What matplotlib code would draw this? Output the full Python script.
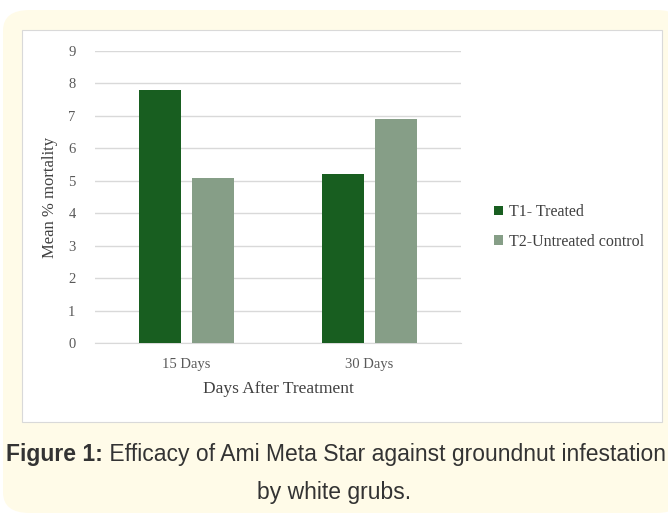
import numpy as np
import matplotlib.pyplot as plt
from matplotlib.patches import FancyBboxPatch, Rectangle

categories = ["15 Days", "30 Days"]
t1_treated = [7.8, 5.2]
t2_control = [5.1, 6.9]
series_names = ["T1- Treated", "T2-Untreated control"]

c1 = "#185e20"
c2 = "#869e87"
serif = ["Liberation Serif", "DejaVu Serif"]

fig = plt.figure(figsize=(6.68, 5.17), dpi=100)

# cream rounded frame and white chart panel
fig.patches.append(FancyBboxPatch((3 / 668, 4 / 517), 680 / 668, 503 / 517,
                                  boxstyle="round,pad=0,rounding_size=0.04",
                                  transform=fig.transFigure, fc="#fffbe8", ec="none", zorder=-2))
fig.patches.append(Rectangle((22 / 668, 95 / 517), 640 / 668, 392 / 517,
                             transform=fig.transFigure, fc="white", ec="#d9d9d9", lw=0.8, zorder=-1))

ax = fig.add_axes([95 / 668, 1 - 343 / 517, 366 / 668, 292 / 517])
ax.set_facecolor("none")
x = np.arange(len(categories))
w = 0.23
ax.bar(x - 0.143, t1_treated, w, color=c1, label=series_names[0], zorder=3)
ax.bar(x + 0.143, t2_control, w, color=c2, label=series_names[1], zorder=3)

ax.set_xlim(-0.5, 1.5)
ax.set_ylim(0, 9)
ax.set_yticks(range(10))
ax.set_xticks(x)
ax.set_xticklabels(categories)
ax.grid(axis="y", color="#d9d9d9", lw=1, zorder=0)
ax.set_axisbelow(True)
for s in ["top", "right", "left"]:
    ax.spines[s].set_visible(False)
ax.spines["bottom"].set_color("#d9d9d9")
ax.tick_params(length=0, colors="#595959", labelsize=10.5)
ax.tick_params(axis="x", pad=11)
ax.tick_params(axis="y", pad=14)
for lab in ax.get_xticklabels() + ax.get_yticklabels():
    lab.set_family(serif)
ax.set_ylabel("Mean % mortality", family=serif, fontsize=12, color="#404040", labelpad=7)
ax.set_xlabel("Days After Treatment", family=serif, fontsize=12.5, color="#404040", labelpad=7)

ax.legend(loc="center left", bbox_to_anchor=(480 / 668, 1 - 227 / 517), bbox_transform=fig.transFigure,
          frameon=False, handlelength=0.55, handleheight=0.55, handletextpad=0.35, labelspacing=0.85,
          prop={"family": serif, "size": 11.5}, labelcolor="#404040")

# caption
cap = ["Liberation Sans", "DejaVu Sans"]
t = fig.text(6 / 668, 1 - 455 / 517, "Figure 1:", fontsize=16.5, fontweight="bold",
             family=cap, color="#333333", va="center")
ax.annotate(" Efficacy of Ami Meta Star against groundnut infestation", xy=(1, 0.5), xycoords=t,
            va="center", ha="left", fontsize=16.5, family=cap, color="#333333", annotation_clip=False)
fig.text(0.5, 1 - 493 / 517, "by white grubs.", fontsize=16.5, family=cap, color="#333333",
         ha="center", va="center")

fig.savefig("out.png", dpi=100)
